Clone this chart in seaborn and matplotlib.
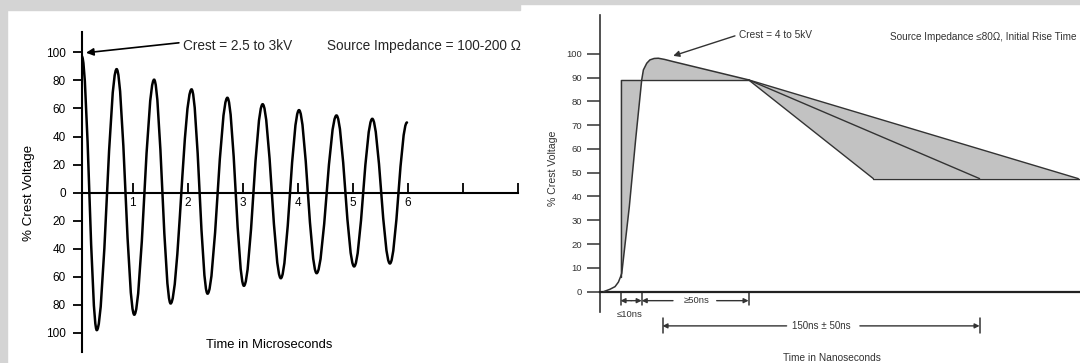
import matplotlib
matplotlib.use('Agg')
import matplotlib.pyplot as plt
from matplotlib.path import Path
from matplotlib.patches import PathPatch, Rectangle
import seaborn as sns

# ---- left chart: ring wave, extremes (time in us, % crest)
ring_t = [0.08, 0.35, 0.71, 1.03, 1.39, 1.69, 2.07, 2.36, 2.72, 3.02,
          3.36, 3.69, 4.02, 4.34, 4.70, 5.02, 5.35, 5.67, 5.98]
ring_v = [97, -98, 88, -87, 80.5, -79, 73.6, -72, 67.6, -66.4,
          63, -61, 58.8, -57.4, 55, -52.6, 52.6, -50.5, 50]
ring_xticks = [1, 2, 3, 4, 5, 6, 7, 8]
ring_xlabels = ['1', '2', '3', '4', '5', '6', '', '']
ring_yticks = [100, 80, 60, 40, 20, 0, -20, -40, -60, -80, -100]
ring_ylabels = [str(abs(v)) for v in ring_yticks]

# ---- right chart: fast transient (time in ns, % crest)
pulse_t = [2, 5, 7.4, 9, 10, 10.6, 14.2, 17.2, 20.1, 20.9, 22.5, 24, 26, 28, 31, 35, 71]
pulse_v = [0, 1, 2.1, 4, 6.2, 7.7, 35.7, 63.8, 89, 93.2, 96, 97.4, 98, 98.1, 97.6, 96.7, 89]
box_t = [10, 10, 71]
box_v = [6.2, 89, 89]
knee_t, knee_v = 71, 89
tail_end_t = [130.4, 181, 228]   # fastest, nominal, slowest decay
tail_end_v = 47.5
floor_t = [130.4, 245]
pulse_yticks = [0, 10, 20, 30, 40, 50, 60, 70, 80, 90, 100]
dim_row1 = [10, 20.1, 71]        # <=10ns and >=50ns markers
dim_row2 = [30, 181]             # 150ns +- 50ns marker

sns.set_theme(style='white')
plt.rcParams['font.family'] = ['Liberation Sans', 'DejaVu Sans']

fig = plt.figure(figsize=(10.8, 3.63), dpi=100, facecolor='white')
W, H = 1080, 363

# grey page edges of the scanned figure
grey = '#d4d4d4'
fig.patches.append(Rectangle((0, 0), 7 / W, 1, transform=fig.transFigure, color=grey, zorder=0))
fig.patches.append(Rectangle((0, 1 - 10 / H), 520 / W, 10 / H, transform=fig.transFigure, color=grey, zorder=0))
fig.patches.append(Rectangle((520 / W, 1 - 4 / H), 560 / W, 4 / H, transform=fig.transFigure, color=grey, zorder=0))

# ================= left panel =================
ax1 = fig.add_axes([81.6 / W, (H - 352) / H, (518.3 - 81.6) / W, 320 / H])
ax1.set_xlim(0.074, 8.0)
ax1.set_ylim(-113.6, 114.5)
ax1.patch.set_alpha(0)

# smooth stroke through the read extremes (horizontal tangent at every peak)
verts = [(ring_t[0], ring_v[0])]
codes = [Path.MOVETO]
for i in range(len(ring_t) - 1):
    dt = ring_t[i + 1] - ring_t[i]
    verts += [(ring_t[i] + 0.364 * dt, ring_v[i]),
              (ring_t[i + 1] - 0.364 * dt, ring_v[i + 1]),
              (ring_t[i + 1], ring_v[i + 1])]
    codes += [Path.CURVE4] * 3
ax1.add_patch(PathPatch(Path(verts, codes), fill=False, lw=1.8, edgecolor='black',
                        capstyle='round', zorder=3))

for s in ['top', 'right']:
    ax1.spines[s].set_visible(False)
ax1.spines['bottom'].set_position(('data', 0))
for s in ['left', 'bottom']:
    ax1.spines[s].set_color('black')
    ax1.spines[s].set_linewidth(1.5)

ax1.set_xticks(ring_xticks)
ax1.set_xticklabels(ring_xlabels)
ax1.set_yticks(ring_yticks)
ax1.set_yticklabels(ring_ylabels)
ax1.tick_params(axis='x', direction='in', length=7, width=1.3, color='black',
                pad=3.2, labelsize=8.5, labelcolor='black', bottom=True)
ax1.tick_params(axis='y', direction='out', length=6.5, width=1.3, color='black',
                pad=5, labelsize=8.5, labelcolor='black', left=True)

ax1.set_xlabel('Time in Microseconds', fontsize=9.4, color='black')
ax1.xaxis.set_label_coords(3.48, -108.8, transform=ax1.transData)
ax1.xaxis.label.set_va('center')
ax1.set_ylabel('% Crest Voltage', fontsize=9.6, color='black')
ax1.yaxis.set_label_coords(-0.875, 0, transform=ax1.transData)
ax1.yaxis.label.set_va('center')

ax1.annotate('', xy=(0.154, 99.7), xytext=(1.84, 106.8),
             arrowprops=dict(arrowstyle='-|>', color='black', lw=1.2,
                             mutation_scale=11, shrinkA=0, shrinkB=0))
ax1.text(1.91, 104.7, 'Crest = 2.5 to 3kV', fontsize=9.8, va='center', ha='left')
ax1.text(4.52, 104.7, 'Source Impedance = 100-200 Ω', fontsize=9.8, va='center', ha='left')

# ================= right panel =================
line_c = '#333333'
ax2 = fig.add_axes([599.5 / W, 0, 240 * 2.1 / W, (291.7 + 30 * 2.379 - 15) / H])
ax2.set_xlim(0, 240)
ax2.set_ylim(-30, 116.3)
ax2.patch.set_alpha(0)

fill_t = [t for t in pulse_t if t >= box_t[0]] + [box_t[0]]
fill_v = [v for t, v in zip(pulse_t, pulse_v) if t >= box_t[0]] + [box_v[1]]
ax2.fill(fill_t, fill_v, color='#c2c2c2', lw=0, zorder=1)
ax2.fill([knee_t, tail_end_t[0], tail_end_t[2]], [knee_v, tail_end_v, tail_end_v],
         color='#c2c2c2', lw=0, zorder=1)

sns.lineplot(x=box_t, y=box_v, ax=ax2, sort=False, estimator=None, color=line_c, lw=1.0, zorder=2)
for te in tail_end_t:
    sns.lineplot(x=[knee_t, te], y=[knee_v, tail_end_v], ax=ax2, sort=False,
                 estimator=None, color=line_c, lw=1.0, zorder=2)
sns.lineplot(x=floor_t, y=[tail_end_v, tail_end_v], ax=ax2, sort=False,
             estimator=None, color=line_c, lw=1.0, zorder=2)
sns.lineplot(x=pulse_t, y=pulse_v, ax=ax2, sort=False, estimator=None,
             color=line_c, lw=1.1, zorder=3)

for s in ['top', 'right']:
    ax2.spines[s].set_visible(False)
ax2.spines['left'].set_bounds(-8.4, 116.3)
ax2.spines['left'].set_color('#333333')
ax2.spines['left'].set_linewidth(1.2)
ax2.spines['bottom'].set_position(('data', 0))
ax2.spines['bottom'].set_color('#222222')
ax2.spines['bottom'].set_linewidth(1.6)
ax2.set_xticks([])
ax2.set_yticks(pulse_yticks)
ax2.tick_params(axis='y', direction='out', length=9.4, width=1.1, color='#333333',
                pad=3, labelsize=6.8, labelcolor='#333333', left=True)

ax2.set_xlabel('Time in Nanoseconds', fontsize=7.3, color='#333333')
ax2.xaxis.set_label_coords(110.9, -27.9, transform=ax2.transData)
ax2.xaxis.label.set_va('center')
ax2.set_ylabel('% Crest Voltage', fontsize=7.6, color='#333333')
ax2.yaxis.set_label_coords(-22, 52, transform=ax2.transData)
ax2.yaxis.label.set_va('center')

ax2.annotate('', xy=(35.1, 99.1), xytext=(64.5, 107.5),
             arrowprops=dict(arrowstyle='-|>', color=line_c, lw=1.0,
                             mutation_scale=9, shrinkA=0, shrinkB=0))
ax2.text(66.6, 107.9, 'Crest = 4 to 5kV', fontsize=7.3, color=line_c, va='center', ha='left')
ax2.text(138.3, 107.1, 'Source Impedance ≤80Ω, Initial Rise Time', fontsize=7.2,
         color=line_c, va='center', ha='left')

# dimension markers under the time axis
arrow = dict(arrowstyle='-|>', color=line_c, lw=1.0, mutation_scale=7, shrinkA=0, shrinkB=0)
for t in dim_row1:
    ax2.plot([t, t], [0, -5.6], color=line_c, lw=1.1, clip_on=False)
for t in dim_row2:
    ax2.plot([t, t], [-11, -17.4], color=line_c, lw=1.1, clip_on=False)
mid = (dim_row1[0] + dim_row1[1]) / 2
ax2.annotate('', xy=(dim_row1[0], -3.8), xytext=(mid, -3.8), arrowprops=arrow)
ax2.annotate('', xy=(dim_row1[1], -3.8), xytext=(mid, -3.8), arrowprops=arrow)
ax2.text(14.5, -9.8, '≤10ns', fontsize=6.8, color=line_c, ha='center', va='center')
ax2.annotate('', xy=(dim_row1[1], -3.8), xytext=(35, -3.8), arrowprops=arrow)
ax2.annotate('', xy=(dim_row1[2], -3.8), xytext=(55.8, -3.8), arrowprops=arrow)
ax2.text(46.4, -3.8, '≥50ns', fontsize=6.8, color=line_c, ha='center', va='center')
ax2.annotate('', xy=(dim_row2[0], -14.4), xytext=(89.1, -14.4), arrowprops=arrow)
ax2.annotate('', xy=(dim_row2[1], -14.4), xytext=(124, -14.4), arrowprops=arrow)
ax2.text(105.5, -14.4, '150ns ± 50ns', fontsize=7.0, color=line_c, ha='center', va='center')

fig.savefig('out.png', dpi=100, facecolor='white')
